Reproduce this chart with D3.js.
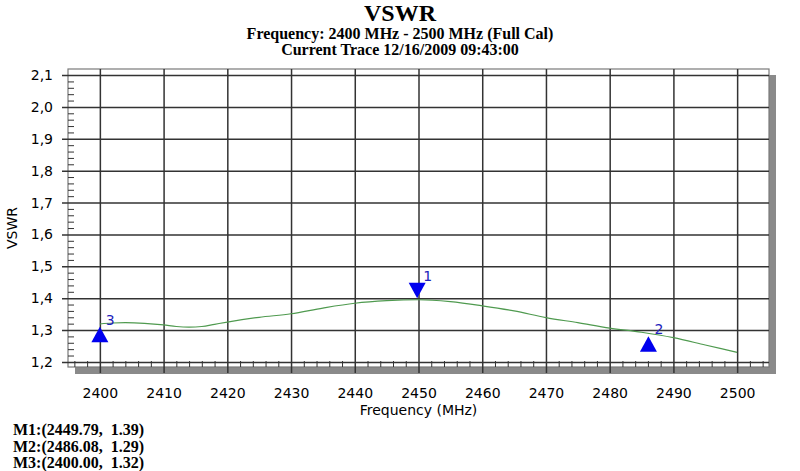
<!DOCTYPE html>
<html>
<head>
<meta charset="utf-8">
<script src="https://cdn.jsdelivr.net/npm/d3@7"></script>
<style>
  body { margin: 0; background: #fff; }
  svg { display: block; }
</style>
</head>
<body>
<div class="chart"></div>
<script>
// Trace
const freqs = [2400, 2402, 2404, 2407, 2410, 2412, 2414, 2416, 2418, 2420, 2425, 2430, 2435,
  2440, 2445, 2450, 2455, 2460, 2465, 2470, 2475, 2480, 2485, 2490, 2495, 2500];
const vswr = [1.319, 1.322, 1.323, 1.321, 1.316, 1.311, 1.309, 1.311, 1.318, 1.325, 1.340, 1.351, 1.369,
  1.384, 1.392, 1.395, 1.389, 1.376, 1.360, 1.339, 1.323, 1.306, 1.293, 1.276, 1.253, 1.230];

// Markers
const markerNames = ["1", "2", "3"];
const markerFreqs = [2449.79, 2486.08, 2400.00];
const markerVals = [1.39, 1.29, 1.32];
const markerDirs = ["down", "up", "up"];

// Tick labels
const xTicks = [2400, 2410, 2420, 2430, 2440, 2450, 2460, 2470, 2480, 2490, 2500];
const yTicks = [1.2, 1.3, 1.4, 1.5, 1.6, 1.7, 1.8, 1.9, 2.0, 2.1];

const titleLines = ["Frequency: 2400 MHz - 2500 MHz (Full Cal)", "Current Trace 12/16/2009 09:43:00"];

const W = 800, H = 471;
const frame = { left: 68, right: 769, top: 69, bottom: 367 };

const svg = d3.select(".chart").append("svg")
  .attr("width", W).attr("height", H);

svg.append("rect").attr("width", W).attr("height", H).attr("fill", "#fff");

const x = d3.scaleLinear().domain([2395, 2505]).range([frame.left, frame.right]);
const y = d3.scaleLinear().domain([1.184, 2.119]).range([frame.bottom, frame.top]);

const serif = "'Liberation Serif', 'Times New Roman', serif";
const sans = "'DejaVu Sans', Verdana, sans-serif";

// Titles
svg.append("text").attr("x", 400).attr("y", 21).attr("text-anchor", "middle")
  .style("font-family", serif).style("font-weight", "bold").style("font-size", "24px")
  .text("VSWR");
svg.selectAll(".sub").data(titleLines).join("text")
  .attr("class", "sub")
  .attr("x", 400).attr("y", (d, i) => 38.5 + i * 16.5)
  .attr("text-anchor", "middle")
  .style("font-family", serif).style("font-weight", "bold").style("font-size", "16px")
  .text(d => d);

// Drop shadow + frame
svg.append("rect").attr("x", frame.left + 7).attr("y", frame.bottom)
  .attr("width", frame.right - frame.left).attr("height", 7).attr("fill", "#8a8a8a");
svg.append("rect").attr("x", frame.right).attr("y", frame.top + 6)
  .attr("width", 7).attr("height", frame.bottom - frame.top + 1).attr("fill", "#8a8a8a");
svg.append("rect").attr("x", frame.left).attr("y", frame.top)
  .attr("width", frame.right - frame.left).attr("height", frame.bottom - frame.top)
  .attr("fill", "#fff").attr("stroke", "#7a7a7a").attr("stroke-width", 1.2);

// Horizontal grid + y labels
const yAxis = svg.append("g")
  .attr("transform", `translate(62,0)`)
  .call(d3.axisLeft(y).tickValues(yTicks).tickSize(-(frame.right - 62)).tickPadding(9)
    .tickFormat(d => d3.format(".1f")(d).replace(".", ",")));
yAxis.select(".domain").remove();
yAxis.selectAll("line").attr("stroke", "#333").attr("stroke-width", 1.5);
yAxis.selectAll("text").style("font-family", sans).style("font-size", "14px").attr("fill", "#000");

// Vertical grid + x labels
const xAxis = svg.append("g")
  .attr("transform", `translate(0,${frame.bottom + 6})`)
  .call(d3.axisBottom(x).tickValues(xTicks).tickSize(-(frame.bottom + 6 - frame.top)).tickPadding(15)
    .tickFormat(d3.format("d")));
xAxis.select(".domain").remove();
xAxis.selectAll("line").attr("stroke", "#333").attr("stroke-width", 1.5);
xAxis.selectAll("text").style("font-family", sans).style("font-size", "14px").attr("fill", "#000");

// Minor ticks
const yMinor = d3.range(1.22, 2.1, 0.02).filter(v => Math.abs(v * 10 - Math.round(v * 10)) > 0.01);
const yMin = svg.append("g").attr("transform", `translate(${frame.left},0)`)
  .call(d3.axisRight(y).tickValues(yMinor).tickSize(6).tickFormat(""));
yMin.select(".domain").remove();
yMin.selectAll("line").attr("stroke", "#333");

const xMinor = d3.range(2396, 2505, 2).filter(v => v % 10 !== 0);
const xMin = svg.append("g").attr("transform", `translate(0,${frame.bottom})`)
  .call(d3.axisTop(x).tickValues(xMinor).tickSize(6).tickFormat(""));
xMin.select(".domain").remove();
xMin.selectAll("line").attr("stroke", "#333");

// Axis titles
svg.append("text").attr("x", (frame.left + frame.right) / 2).attr("y", 415)
  .attr("text-anchor", "middle").style("font-family", sans).style("font-size", "14px")
  .attr("fill", "#000").text("Frequency (MHz)");
svg.append("text").attr("transform", "translate(17,228) rotate(-90)")
  .attr("text-anchor", "middle").style("font-family", sans).style("font-size", "14px")
  .attr("fill", "#000").text("VSWR");

// Trace
const pts = freqs.map((f, i) => [f, vswr[i]]);
svg.append("path").datum(pts)
  .attr("fill", "none").attr("stroke", "#4f9a4f").attr("stroke-width", 1.2)
  .attr("d", d3.line().x(d => x(d[0])).y(d => y(d[1])).curve(d3.curveMonotoneX));

// Markers
const markers = markerNames.map((n, i) => ({ n, f: markerFreqs[i], v: markerVals[i], dir: markerDirs[i] }));
const mg = svg.selectAll(".marker").data(markers).join("g").attr("class", "marker");
mg.append("path")
  .attr("fill", "#0000ee")
  .attr("d", d => {
    const cx = x(d.f), cy = y(d.v);
    if (d.dir === "down") {
      const tip = cy - 3;
      return `M${cx - 8.5},${tip - 15.5}L${cx + 8.5},${tip - 15.5}L${cx},${tip}Z`;
    }
    const tip = cy + 3;
    return `M${cx},${tip}L${cx + 8.5},${tip + 15.5}L${cx - 8.5},${tip + 15.5}Z`;
  });
mg.append("text")
  .attr("x", d => x(d.f) + 6)
  .attr("y", d => d.dir === "down" ? y(d.v) - 3 - 15.5 - 2 : y(d.v) + 3 - 2)
  .style("font-family", sans).style("font-size", "14px").attr("fill", "#2222bb")
  .text(d => d.n);

// Marker readout
svg.selectAll(".readout").data(markers).join("text")
  .attr("class", "readout")
  .attr("x", 13).attr("y", (d, i) => 435 + i * 16.7)
  .style("font-family", serif).style("font-weight", "bold").style("font-size", "16px")
  .style("white-space", "pre")
  .text(d => `M${d.n}:(${d.f.toFixed(2)},  ${d.v.toFixed(2)})`);
</script>
</body>
</html>
